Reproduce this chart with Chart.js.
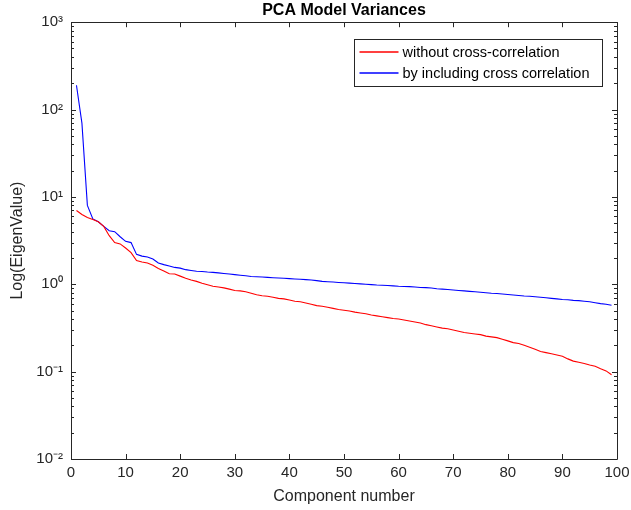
<!DOCTYPE html>
<html lang="en">
<head>
<meta charset="UTF-8">
<script src="https://cdn.jsdelivr.net/npm/chart.js"></script>
<title>PCA Model Variances</title>
<style>
  body { margin: 0; background: #fff; }
</style>
</head>
<body>
<div style="position: relative; width: 631px; height: 510px;">
  <canvas id="myChart" width="631" height="510"></canvas>
</div>
<script>
// component index 1..99
const components = Array.from({ length: 99 }, (_, i) => i + 1);

const withoutCross = [
  7.0, 6.3, 5.8, 5.5, 5.2, 4.6, 3.6, 3.0, 2.9, 2.6,
  2.3, 1.87, 1.8, 1.75, 1.65, 1.52, 1.42, 1.32, 1.31, 1.24,
  1.17, 1.12, 1.08, 1.03, 0.99, 0.95, 0.93, 0.91, 0.88, 0.85,
  0.84, 0.82, 0.79, 0.76, 0.74, 0.73, 0.71, 0.69, 0.68, 0.66,
  0.64, 0.63, 0.61, 0.59, 0.57, 0.56, 0.545, 0.53, 0.515, 0.505,
  0.495, 0.48, 0.47, 0.46, 0.445, 0.435, 0.425, 0.415, 0.405, 0.40,
  0.39, 0.38, 0.37, 0.36, 0.345, 0.335, 0.325, 0.315, 0.31, 0.30,
  0.29, 0.28, 0.275, 0.27, 0.265, 0.255, 0.25, 0.245, 0.235, 0.225,
  0.215, 0.21, 0.20, 0.19, 0.18, 0.17, 0.165, 0.16, 0.155, 0.15,
  0.14, 0.132, 0.128, 0.124, 0.119, 0.115, 0.108, 0.102, 0.092
];

const withCross = [
  190, 70, 8.0, 5.6, 5.2, 4.6, 4.1, 4.0, 3.5, 3.1,
  3.0, 2.2, 2.1, 2.05, 1.95, 1.75, 1.68, 1.62, 1.56, 1.53,
  1.47, 1.44, 1.41, 1.40, 1.38, 1.37, 1.35, 1.33, 1.31, 1.29,
  1.27, 1.25, 1.23, 1.22, 1.21, 1.20, 1.19, 1.18, 1.17, 1.16,
  1.15, 1.14, 1.13, 1.12, 1.10, 1.08, 1.07, 1.06, 1.05, 1.04,
  1.03, 1.02, 1.01, 1.00, 0.99, 0.98, 0.975, 0.97, 0.96, 0.95,
  0.945, 0.94, 0.93, 0.92, 0.915, 0.905, 0.89, 0.88, 0.87, 0.86,
  0.85, 0.84, 0.83, 0.82, 0.81, 0.80, 0.79, 0.785, 0.775, 0.765,
  0.755, 0.745, 0.735, 0.73, 0.72, 0.71, 0.70, 0.69, 0.68, 0.67,
  0.665, 0.655, 0.65, 0.64, 0.63, 0.615, 0.60, 0.59, 0.575
];

const xTicks = [0, 10, 20, 30, 40, 50, 60, 70, 80, 90, 100];
const yTicks = [0.01, 0.1, 1, 10, 100, 1000];
const yTickLabels = ['10\u207B\u00B2', '10\u207B\u00B9', '10\u2070', '10\u00B9', '10\u00B2', '10\u00B3'];

const axisColor = '#262626';
const fontFamily = '"Liberation Sans", Arial, sans-serif';

// box, inward ticks and legend drawn like matlab
const matlabAxes = {
  id: 'matlabAxes',
  afterDraw(chart) {
    const ctx = chart.ctx;
    const a = chart.chartArea;
    const xs = chart.scales.x;
    const ys = chart.scales.y;
    ctx.save();
    ctx.strokeStyle = axisColor;
    ctx.lineWidth = 1;
    ctx.beginPath();
    ctx.rect(Math.round(a.left) + 0.5, Math.round(a.top) + 0.5,
             Math.round(a.right - a.left), Math.round(a.bottom - a.top));
    ctx.stroke();

    ctx.beginPath();
    xTicks.forEach(v => {
      const px = Math.round(xs.getPixelForValue(v)) + 0.5;
      ctx.moveTo(px, a.bottom); ctx.lineTo(px, a.bottom - 5);
      ctx.moveTo(px, a.top); ctx.lineTo(px, a.top + 5);
    });
    yTicks.forEach((v, i) => {
      const py = Math.round(ys.getPixelForValue(v)) + 0.5;
      ctx.moveTo(a.left, py); ctx.lineTo(a.left + 5, py);
      ctx.moveTo(a.right, py); ctx.lineTo(a.right - 5, py);
      if (i < yTicks.length - 1) {
        for (let m = 2; m <= 9; m++) {
          const my = Math.round(ys.getPixelForValue(v * m)) + 0.5;
          ctx.moveTo(a.left, my); ctx.lineTo(a.left + 3, my);
          ctx.moveTo(a.right, my); ctx.lineTo(a.right - 3, my);
        }
      }
    });
    ctx.stroke();

    // legend
    const ds = chart.data.datasets;
    const boxW = 248, boxH = 47;
    const bx = Math.round(a.right - 15 - boxW) + 0.5;
    const by = Math.round(a.top + 17) + 0.5;
    ctx.fillStyle = '#fff';
    ctx.fillRect(bx, by, boxW, boxH);
    ctx.strokeStyle = axisColor;
    ctx.strokeRect(bx, by, boxW, boxH);
    ctx.font = '14.5px ' + fontFamily;
    ctx.textBaseline = 'middle';
    ds.forEach((d, i) => {
      const ly = Math.round(by + 12.5 + i * 21);
      ctx.strokeStyle = d.borderColor;
      ctx.lineWidth = 1.3;
      ctx.beginPath();
      ctx.moveTo(bx + 5, ly); ctx.lineTo(bx + 44, ly);
      ctx.stroke();
      ctx.fillStyle = '#000';
      ctx.fillText(d.label, bx + 48, ly + 1);
    });
    ctx.restore();
  }
};

const data = {
  datasets: [{
    label: 'without cross-correlation',
    data: components.map((c, i) => ({ x: c, y: withoutCross[i] })),
    borderColor: '#ff0000',
    backgroundColor: '#ff0000'
  }, {
    label: 'by including cross correlation',
    data: components.map((c, i) => ({ x: c, y: withCross[i] })),
    borderColor: '#0000ff',
    backgroundColor: '#0000ff'
  }]
};

const config = {
  type: 'line',
  data: data,
  options: {
    responsive: false,
    animation: false,
    devicePixelRatio: 1,
    elements: {
      line: { borderWidth: 1.1, tension: 0 },
      point: { radius: 0 }
    },
    layout: { padding: { top: 0, right: 14, bottom: 0, left: 0 } },
    plugins: {
      legend: { display: false },
      tooltip: { enabled: false },
      title: {
        display: true,
        fullSize: false,
        text: 'PCA Model Variances',
        color: '#000',
        font: { family: fontFamily, size: 16, weight: 'bold' },
        padding: { top: 1, bottom: 2 }
      }
    },
    scales: {
      x: {
        type: 'linear',
        min: 0,
        max: 100,
        afterBuildTicks: s => { s.ticks = xTicks.map(v => ({ value: v })); },
        afterFit: s => { s.height = 51; s.paddingLeft = 0; s.paddingRight = 0; },
        grid: { display: false, drawTicks: false },
        border: { display: false },
        ticks: {
          color: axisColor,
          padding: 5,
          maxRotation: 0,
          font: { family: fontFamily, size: 15 }
        },
        title: {
          display: true,
          text: 'Component number',
          color: axisColor,
          font: { family: fontFamily, size: 16 },
          padding: { top: 0, bottom: 4 }
        }
      },
      y: {
        type: 'logarithmic',
        min: 0.01,
        max: 1000,
        afterBuildTicks: s => { s.ticks = yTicks.map(v => ({ value: v })); },
        afterFit: s => { s.width = 71; s.paddingTop = 0; s.paddingBottom = 0; },
        grid: { display: false, drawTicks: false },
        border: { display: false },
        ticks: {
          color: axisColor,
          padding: 8,
          font: { family: fontFamily, size: 15 },
          callback: (v) => {
            const i = yTicks.findIndex(t => Math.abs(t - v) < t * 1e-6);
            return i >= 0 ? yTickLabels[i] : '';
          }
        },
        title: {
          display: true,
          text: 'Log(EigenValue)',
          color: axisColor,
          font: { family: fontFamily, size: 16 },
          padding: { top: 8, bottom: 0 }
        }
      }
    }
  },
  plugins: [matlabAxes]
};

const myChart = new Chart(document.getElementById('myChart'), config);
</script>
</body>
</html>
